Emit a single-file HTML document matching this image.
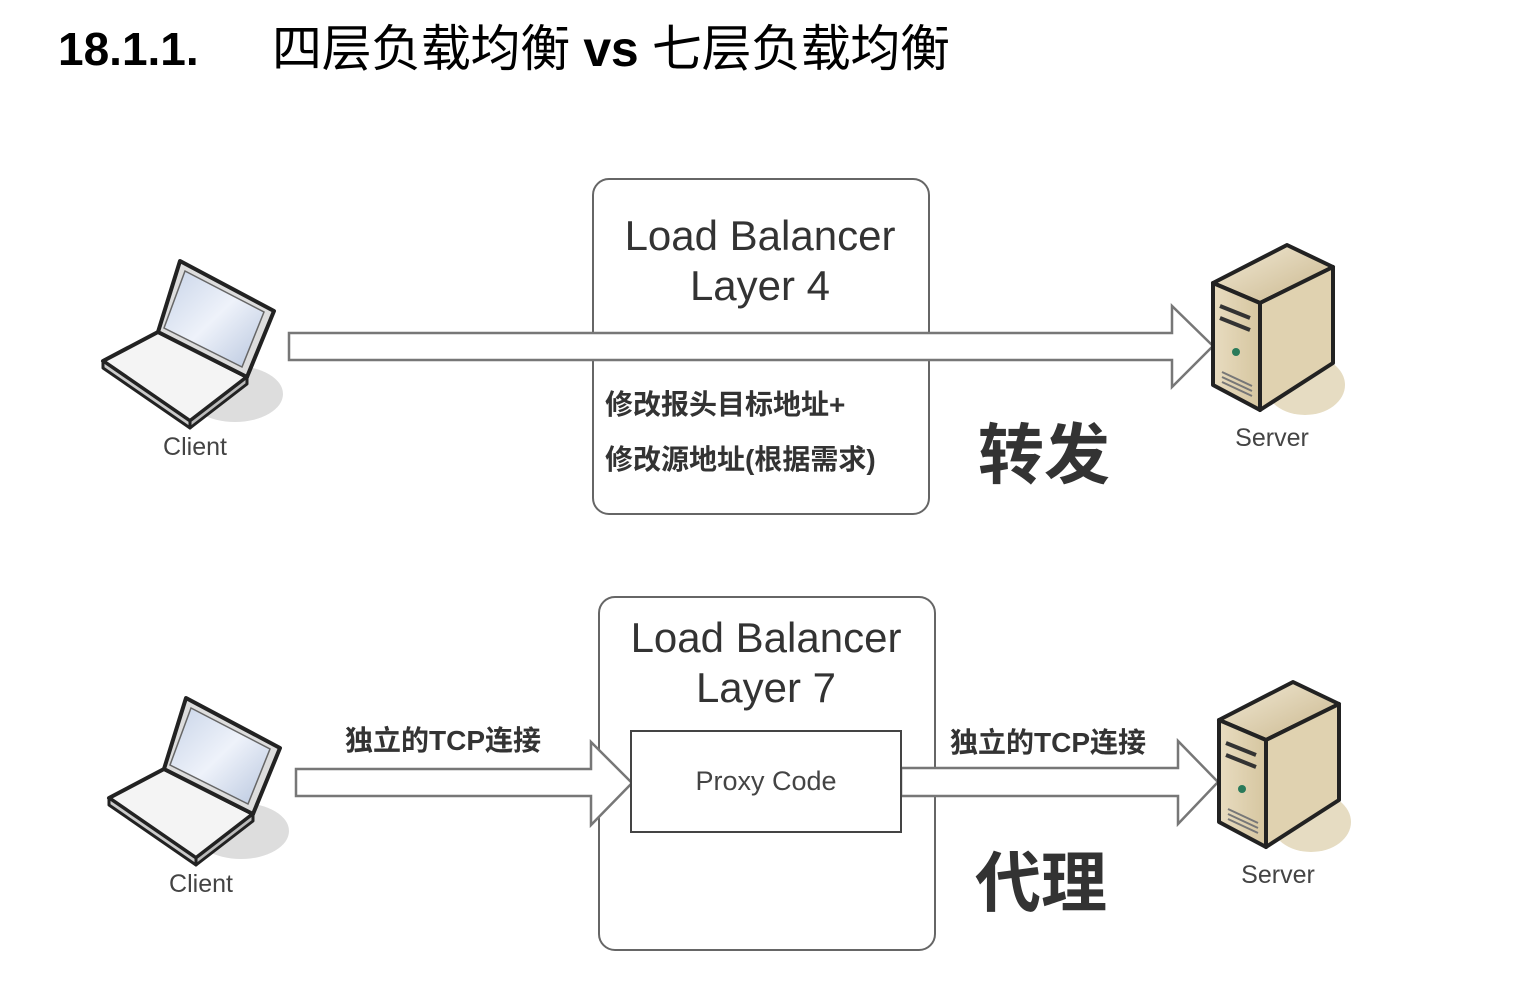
<!DOCTYPE html>
<html><head><meta charset="utf-8"><style>
html,body{margin:0;padding:0;background:#fff;width:1514px;height:990px;overflow:hidden}
svg{display:block}
text{font-family:"Liberation Sans","Noto Sans CJK SC",sans-serif}
</style></head><body>
<svg width="1514" height="990" viewBox="0 0 1514 990" xmlns="http://www.w3.org/2000/svg">
<defs>
<linearGradient id="scr" x1="0" y1="0" x2="1" y2="1"><stop offset="0" stop-color="#c8d4e8"/><stop offset="0.5" stop-color="#eef2fa"/><stop offset="1" stop-color="#b8c6de"/></linearGradient>
<linearGradient id="sf" x1="0" y1="0" x2="1" y2="0"><stop offset="0" stop-color="#e8dcc0"/><stop offset="1" stop-color="#d6c6a0"/></linearGradient>
<linearGradient id="sr" x1="0" y1="0" x2="1" y2="1"><stop offset="0" stop-color="#f2ead6"/><stop offset="1" stop-color="#c9b68c"/></linearGradient>
<g id="laptop">
<g transform="translate(0,-6)">
<ellipse cx="235" cy="400" rx="48" ry="28" fill="#ddd"/>
<polygon points="103,367 158,338 247,383 190,427" fill="#f4f4f4" stroke="#222" stroke-width="4" stroke-linejoin="round"/>
<polygon points="103,367 190,427 190,434 103,374" fill="#ccc" stroke="#222" stroke-width="3" stroke-linejoin="round"/>
<polygon points="190,427 247,383 247,390 190,434" fill="#bbb" stroke="#222" stroke-width="3" stroke-linejoin="round"/>
<polygon points="180,267 274,317 247,383 158,338" fill="#ddd" stroke="#222" stroke-width="4" stroke-linejoin="round"/>
<polygon points="185,277 264,318 242,373 164,334" fill="url(#scr)" stroke="#666" stroke-width="1.5"/>
</g>
<text x="195" y="455" font-size="25" fill="#444" text-anchor="middle">Client</text>
</g>
<g id="server">
<ellipse cx="1305" cy="385" rx="40" ry="30" fill="#e6dcc2"/>
<polygon points="1213,283 1287,245 1333,267 1260,303" fill="url(#sr)" stroke="#222" stroke-width="4" stroke-linejoin="round"/>
<polygon points="1260,303 1333,267 1333,363 1260,410" fill="#e0d2b0" stroke="#222" stroke-width="4" stroke-linejoin="round"/>
<polygon points="1213,283 1260,303 1260,410 1213,385" fill="url(#sf)" stroke="#222" stroke-width="4" stroke-linejoin="round"/>
<path d="M1220,306 L1250,318 M1220,318 L1250,330" stroke="#333" stroke-width="4"/>
<circle cx="1236" cy="352" r="4" fill="#2a7a5a"/>
<path d="M1222,372 L1252,386 M1222,377 L1252,391 M1222,382 L1252,396" stroke="#777" stroke-width="2"/>
<text x="1272" y="446" font-size="25" fill="#444" text-anchor="middle">Server</text>
</g>
</defs>

<text x="58" y="65" font-size="46" font-weight="bold" fill="#000">18.1.1.</text>
<text x="272" y="66" font-size="50" fill="#000" textLength="678">四层负载均衡 <tspan font-weight="bold">vs</tspan> 七层负载均衡</text>

<!-- Layer 4 -->
<rect x="593" y="179" width="336" height="335" rx="16" fill="#fff" stroke="#666" stroke-width="2"/>
<text x="760" y="250" font-size="42" fill="#333" text-anchor="middle">Load Balancer</text>
<text x="760" y="300" font-size="42" fill="#333" text-anchor="middle">Layer 4</text>
<polygon points="289,333 1172,333 1172,306 1213,346 1172,387 1172,360 289,360" fill="#fff" stroke="#777" stroke-width="2.5"/>
<text x="605" y="414" font-size="28" font-weight="bold" fill="#333">修改报头目标地址+</text>
<text x="605" y="469" font-size="28" font-weight="bold" fill="#333">修改源地址(根据需求)</text>
<text x="978" y="478" font-size="66" font-weight="bold" fill="#333">转发</text>
<use href="#laptop"/>
<use href="#server"/>

<!-- Layer 7 -->
<rect x="599" y="597" width="336" height="353" rx="16" fill="#fff" stroke="#666" stroke-width="2"/>
<text x="766" y="652" font-size="42" fill="#333" text-anchor="middle">Load Balancer</text>
<text x="766" y="702" font-size="42" fill="#333" text-anchor="middle">Layer 7</text>
<polygon points="296,769 591,769 591,742 632,783 591,825 591,796 296,796" fill="#fff" stroke="#777" stroke-width="2.5"/>
<polygon points="901,768 1178,768 1178,741 1218,782 1178,824 1178,796 901,796" fill="#fff" stroke="#777" stroke-width="2.5"/>
<rect x="631" y="731" width="270" height="101" fill="#fff" stroke="#444" stroke-width="2"/>
<text x="766" y="790" font-size="27" fill="#444" text-anchor="middle">Proxy Code</text>
<text x="345" y="750" font-size="28" font-weight="bold" fill="#333">独立的TCP连接</text>
<text x="950" y="752" font-size="28" font-weight="bold" fill="#333">独立的TCP连接</text>
<text x="975" y="906" font-size="66" font-weight="bold" fill="#333">代理</text>
<use href="#laptop" transform="translate(6,437)"/>
<use href="#server" transform="translate(6,437)"/>
</svg>
</body></html>
